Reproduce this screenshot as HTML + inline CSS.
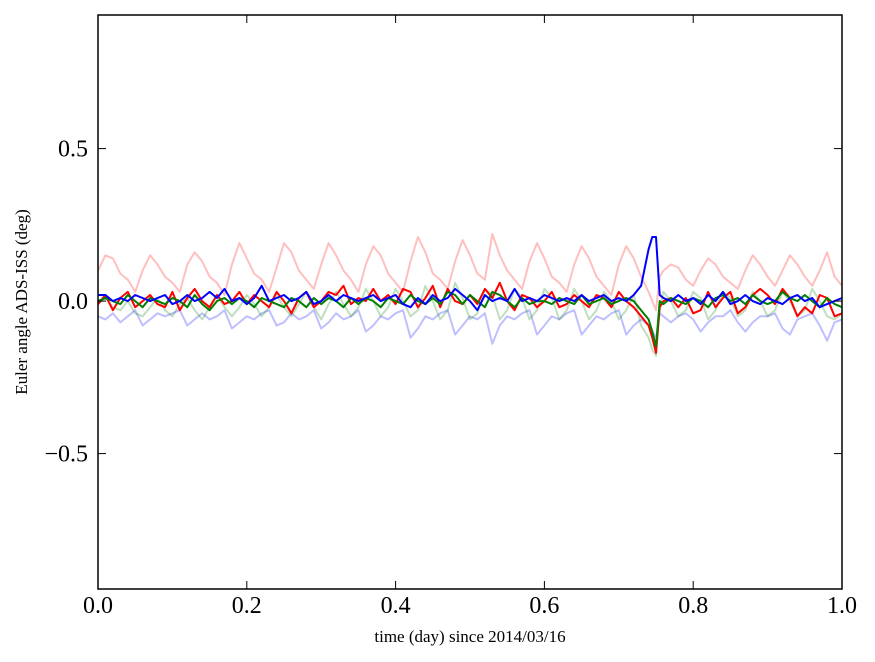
<!DOCTYPE html>
<html><head><meta charset="utf-8"><style>
html,body{margin:0;padding:0;background:#fff;}
svg{display:block;font-family:"Liberation Serif",serif;}
</style></head><body>
<svg id="chart" width="875" height="662">
<rect x="0" y="0" width="875" height="662" fill="#fff"/>
<g id="series"></g>
<rect x="98" y="15" width="744" height="574" fill="none" stroke="#000" stroke-width="1.5"/>
<g id="axes"></g>
<text x="470" y="642" font-size="17" text-anchor="middle">time (day) since 2014/03/16</text>
<text transform="translate(27,302) rotate(-90)" font-size="17" text-anchor="middle">Euler angle ADS-ISS (deg)</text>
</svg>
<script>
const times=[0,0.01,0.02,0.03,0.04,0.05,0.06,0.07,0.08,0.09,0.10,0.11,0.12,0.13,0.14,0.15,0.16,0.17,0.18,0.19,0.20,0.21,0.22,0.23,0.24,0.25,0.26,0.27,0.28,0.29,0.30,0.31,0.32,0.33,0.34,0.35,0.36,0.37,0.38,0.39,0.40,0.41,0.42,0.43,0.44,0.45,0.46,0.47,0.48,0.49,0.50,0.51,0.52,0.53,0.54,0.55,0.56,0.57,0.58,0.59,0.60,0.61,0.62,0.63,0.64,0.65,0.66,0.67,0.68,0.69,0.70,0.71,0.72,0.73,0.74,0.745,0.75,0.755,0.76,0.77,0.78,0.79,0.80,0.81,0.82,0.83,0.84,0.85,0.86,0.87,0.88,0.89,0.90,0.91,0.92,0.93,0.94,0.95,0.96,0.97,0.98,0.99,1.00];
const pinkSeries=[0.10,0.15,0.14,0.09,0.07,0.03,0.10,0.15,0.12,0.08,0.06,0.03,0.12,0.16,0.13,0.08,0.06,0.02,0.12,0.19,0.14,0.09,0.07,0.03,0.11,0.19,0.16,0.10,0.07,0.04,0.12,0.19,0.15,0.10,0.07,0.03,0.12,0.18,0.15,0.09,0.06,0.03,0.13,0.21,0.16,0.09,0.07,0.04,0.13,0.20,0.15,0.09,0.07,0.22,0.15,0.10,0.07,0.04,0.13,0.19,0.14,0.08,0.06,0.03,0.12,0.18,0.14,0.08,0.05,0.02,0.12,0.18,0.14,0.08,0.03,0.0,-0.03,0.08,0.10,0.12,0.11,0.07,0.05,0.10,0.14,0.12,0.08,0.06,0.04,0.10,0.15,0.12,0.08,0.05,0.10,0.15,0.12,0.08,0.05,0.10,0.16,0.08,0.05];
const lightBlueSeries=[-0.05,-0.06,-0.04,-0.07,-0.05,-0.03,-0.08,-0.06,-0.04,-0.05,-0.04,-0.03,-0.08,-0.06,-0.04,-0.06,-0.05,-0.03,-0.09,-0.07,-0.05,-0.06,-0.04,-0.03,-0.08,-0.07,-0.04,-0.06,-0.05,-0.03,-0.09,-0.07,-0.04,-0.06,-0.05,-0.03,-0.10,-0.08,-0.05,-0.06,-0.04,-0.03,-0.12,-0.09,-0.05,-0.06,-0.04,-0.03,-0.11,-0.08,-0.05,-0.06,-0.04,-0.14,-0.08,-0.05,-0.06,-0.04,-0.03,-0.11,-0.08,-0.05,-0.06,-0.04,-0.03,-0.11,-0.08,-0.05,-0.06,-0.04,-0.03,-0.11,-0.08,-0.06,-0.08,-0.10,-0.12,-0.04,-0.05,-0.07,-0.05,-0.04,-0.06,-0.10,-0.07,-0.05,-0.05,-0.03,-0.07,-0.10,-0.07,-0.05,-0.05,-0.04,-0.09,-0.11,-0.06,-0.05,-0.04,-0.08,-0.13,-0.07,-0.06];
const lightGreenSeries=[-0.01,0.01,-0.02,-0.03,0.0,-0.04,-0.05,-0.02,0.01,-0.03,-0.05,-0.01,0.01,-0.03,-0.06,-0.02,0.02,-0.02,-0.05,-0.02,0.02,-0.01,-0.05,-0.02,0.02,-0.02,-0.05,-0.01,0.03,-0.02,-0.06,-0.01,0.03,-0.01,-0.05,-0.02,0.04,0.0,-0.05,-0.02,0.04,0.0,-0.05,-0.03,0.05,0.0,-0.06,-0.03,0.06,0.01,-0.06,-0.04,0.04,0.02,-0.06,-0.03,0.04,0.01,-0.06,-0.03,0.04,0.01,-0.06,-0.03,0.04,0.0,-0.06,-0.03,0.03,0.0,-0.06,-0.03,0.02,-0.08,-0.12,-0.16,-0.18,-0.02,0.03,0.0,-0.05,-0.03,0.03,0.01,-0.06,-0.03,0.03,0.01,-0.05,-0.03,0.03,0.0,-0.05,-0.03,0.03,0.0,-0.05,-0.03,0.04,0.0,-0.05,-0.06,-0.04];
const redSeries=[-0.01,0.02,-0.03,0.01,0.03,-0.02,0.0,0.02,-0.01,-0.02,0.03,-0.03,0.01,0.04,0.0,-0.02,0.02,-0.01,0.0,0.03,-0.01,0.02,0.0,-0.02,0.03,0.0,-0.04,0.01,0.03,-0.02,0.0,0.03,0.02,0.05,-0.01,0.01,0.0,0.04,0.0,0.02,-0.01,0.04,0.03,-0.02,0.01,0.05,-0.02,0.04,0.0,-0.01,0.02,-0.01,0.04,0.01,0.06,0.0,-0.03,0.02,0.01,-0.02,0.0,0.03,-0.02,-0.01,0.02,0.0,-0.02,0.02,0.01,-0.02,0.03,0.0,-0.02,-0.05,-0.08,-0.12,-0.17,-0.02,0.0,0.01,-0.02,0.01,-0.04,-0.03,0.03,-0.02,0.01,0.03,-0.04,-0.02,0.02,0.04,0.02,-0.01,0.04,0.01,-0.05,-0.02,-0.04,0.02,0.01,-0.05,-0.04];
const greenSeries=[0.0,0.01,0.0,-0.01,0.02,0.0,-0.02,0.01,0.0,-0.01,0.01,0.0,-0.02,0.02,-0.01,-0.03,0.0,0.01,-0.01,0.01,0.0,-0.02,0.01,0.0,-0.01,-0.02,0.01,0.0,-0.02,0.01,-0.01,0.01,0.0,-0.02,0.01,-0.01,0.01,0.0,-0.02,0.01,0.0,-0.01,0.02,0.0,-0.01,0.01,-0.01,0.03,0.02,-0.01,0.02,0.0,-0.02,0.03,0.02,0.0,-0.02,0.01,-0.01,0.0,0.0,-0.01,0.01,0.0,-0.01,0.02,-0.01,0.0,0.01,-0.01,0.0,0.01,0.0,-0.03,-0.06,-0.10,-0.15,0.0,-0.01,0.01,0.0,-0.01,0.01,0.0,-0.02,0.01,0.02,0.0,0.01,-0.01,0.02,0.0,-0.01,0.0,0.03,0.01,0.0,0.02,0.0,-0.02,0.01,-0.01,-0.02];
const blueSeries=[0.02,0.02,0.0,0.01,0.0,0.02,0.01,0.0,0.01,0.02,-0.01,0.0,0.02,0.0,0.01,0.03,0.01,0.04,0.0,0.01,-0.01,0.01,0.05,0.0,0.01,0.02,0.0,0.01,0.03,-0.01,0.0,0.02,0.0,0.02,0.01,0.0,0.01,0.02,0.0,0.01,0.02,-0.01,-0.02,0.01,-0.01,0.02,0.0,0.01,0.04,0.02,0.0,-0.03,0.02,0.0,0.01,0.0,0.04,0.0,0.01,0.0,0.02,0.01,0.0,0.01,0.0,0.02,0.0,0.01,0.02,0.0,0.01,0.0,0.02,0.05,0.17,0.21,0.21,0.02,0.01,0.0,0.02,0.0,0.01,-0.01,0.02,0.0,0.03,-0.01,0.0,0.02,0.0,-0.01,0.01,0.0,-0.01,0.01,0.02,0.0,0.01,-0.02,-0.01,0.0,0.01];
const xTicks=[0,0.2,0.4,0.6,0.8,1.0];
const xTickLabels=["0.0","0.2","0.4","0.6","0.8","1.0"];
const yTicks=[-0.5,0,0.5];
const yTickLabels=["\u22120.5","0.0","0.5"];

const X0=98,X1=842,Y0=589,Y1=15,XMIN=0,XMAX=1,YMIN=-0.944,YMAX=0.938;
function xs(v){return X0+(v-XMIN)/(XMAX-XMIN)*(X1-X0);}
function ys(v){return Y0-(v-YMIN)/(YMAX-YMIN)*(Y0-Y1);}
const NS="http://www.w3.org/2000/svg";
const g=document.getElementById('series');
function line(vals,color,op,name){
  const p=document.createElementNS(NS,'path');
  let d='';
  vals.forEach((v,i)=>{d+=(i?'L':'M')+xs(times[i]).toFixed(1)+','+ys(v).toFixed(1);});
  p.setAttribute('d',d);p.setAttribute('fill','none');p.setAttribute('stroke',color);
  p.setAttribute('stroke-width','2');p.setAttribute('stroke-opacity',op);p.setAttribute('stroke-linejoin','round');
  
  
  g.appendChild(p);
}
line(pinkSeries,'#ff0000',0.25,'series-light-red');
line(lightBlueSeries,'#0000ff',0.25,'series-light-blue');
line(lightGreenSeries,'#008000',0.25,'series-light-green');
line(redSeries,'#ff0000',1,'series-red');
line(greenSeries,'#008000',1,'series-green');
line(blueSeries,'#0000ff',1,'series-blue');

const ax=document.getElementById('axes');
function mk(tag,attrs){const e=document.createElementNS(NS,tag);for(const k in attrs)e.setAttribute(k,attrs[k]);ax.appendChild(e);return e;}
xTicks.forEach((v,i)=>{
  const x=xs(v);
  const t1=mk('line',{x1:x,x2:x,y1:Y0,y2:Y0-8,stroke:'#000','stroke-width':1});
  
  
  const t2=mk('line',{x1:x,x2:x,y1:Y1,y2:Y1+8,stroke:'#000','stroke-width':1});
  
  
  const tx=mk('text',{x:x,y:613,'font-size':24,'text-anchor':'middle'});
  tx.textContent=xTickLabels[i];
  
  
});
yTicks.forEach((v,i)=>{
  const y=ys(v);
  const t1=mk('line',{x1:X0,x2:X0+8,y1:y,y2:y,stroke:'#000','stroke-width':1});
  
  
  const t2=mk('line',{x1:X1,x2:X1-8,y1:y,y2:y,stroke:'#000','stroke-width':1});
  
  
  const tx=mk('text',{x:88,y:y+8,'font-size':24,'text-anchor':'end'});
  tx.textContent=yTickLabels[i];
  
  
});
</script>
</body></html>
